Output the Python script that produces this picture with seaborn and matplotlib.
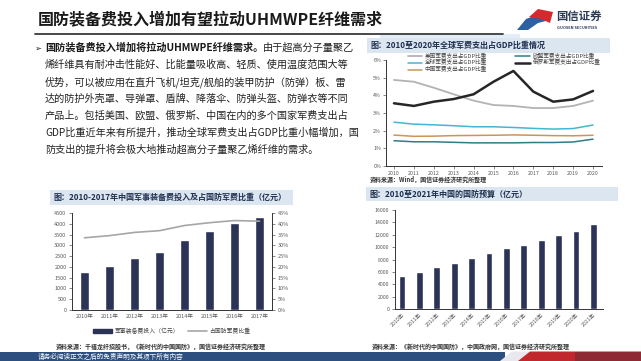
import numpy as np
import pandas as pd
import matplotlib
matplotlib.use("Agg")
import matplotlib.pyplot as plt
import seaborn as sns
from matplotlib.patches import Rectangle, Polygon, Patch
from matplotlib.lines import Line2D

# ---------------- data ----------------
gdp_years = [2010, 2011, 2012, 2013, 2014, 2015, 2016, 2017, 2018, 2019, 2020]
us_share = [4.87, 4.77, 4.43, 4.06, 3.70, 3.45, 3.40, 3.28, 3.28, 3.40, 3.70]
eu_share = [1.43, 1.37, 1.37, 1.34, 1.31, 1.31, 1.31, 1.33, 1.33, 1.36, 1.52]
world_share = [2.48, 2.37, 2.33, 2.28, 2.22, 2.22, 2.18, 2.13, 2.09, 2.12, 2.32]
china_share = [1.75, 1.68, 1.69, 1.72, 1.73, 1.74, 1.76, 1.74, 1.72, 1.71, 1.74]
russia_share = [3.55, 3.40, 3.64, 3.79, 4.06, 4.77, 5.38, 4.21, 3.64, 3.77, 4.25]
gdp_series = ["美国军费支出占GDP比重", "欧盟军费支出占GDP比重", "全球军费支出占GDP比重",
              "俄罗斯军费支出占GDP比重", "中国军费支出占GDP比重"]

equip_years = ["2010年", "2011年", "2012年", "2013年", "2014年", "2015年", "2016年", "2017年"]
equip_spend = [1760, 2060, 2400, 2710, 3260, 3680, 4050, 4320]
equip_ratio = [33.5, 34.5, 36.0, 36.8, 39.2, 40.5, 41.5, 41.2]

budget_years = ["2010年", "2011年", "2012年", "2013年", "2014年", "2015年", "2016年",
                "2017年", "2018年", "2019年", "2020年", "2021年"]
budget = [5340, 6030, 6740, 7440, 8250, 9060, 9810, 10400, 11100, 11910, 12670, 13750]

title = "国防装备费投入增加有望拉动UHMWPE纤维需求"
para_bold = "国防装备费投入增加将拉动UHMWPE纤维需求。"
para_lines = [
    "由于超高分子量聚乙",
    "烯纤维具有耐冲击性能好、比能量吸收高、轻质、使用温度范围大等",
    "优势，可以被应用在直升飞机/坦克/舰船的装甲防护（防弹）板、雷",
    "达的防护外壳罩、导弹罩、盾牌、降落伞、防弹头盔、防弹衣等不同",
    "产品上。包括美国、欧盟、俄罗斯、中国在内的多个国家军费支出占",
    "GDP比重近年来有所提升，推动全球军费支出占GDP比重小幅增加，国",
    "防支出的提升将会极大地推动超高分子量聚乙烯纤维的需求。",
]

# ---------------- style ----------------
sns.set_theme(style="white")
plt.rcParams['font.family'] = ['Noto Sans CJK SC', 'DejaVu Sans']
plt.rcParams['axes.unicode_minus'] = False

W, H = 641, 361
fig = plt.figure(figsize=(W / 100, H / 100), dpi=100)
fig.patch.set_facecolor("white")


def fx(x):
    return x / W


def fy(y):
    return 1 - y / H


def ax_px(x0, y0, x1, y1):
    return fig.add_axes([x0 / W, 1 - y1 / H, (x1 - x0) / W, (y1 - y0) / H])


NAVY = "#2b3356"
TICK = "#595959"
HDR_BG = "#dce6f1"
HDR_TXT = "#1f2f4f"

# ---------------- header / title ----------------
fig.text(fx(38), fy(19), title, fontsize=11.5, fontweight="bold", color="#1a1a1a", va="center")
fig.add_artist(Line2D([fx(35), fx(503)], [fy(34), fy(34)], color="#3a3a3a", lw=1.3))
fig.add_artist(Rectangle((fx(380), fy(38)), fx(140), 3.5 / H, color="#e3edf7", lw=0))

# logo
fig.add_artist(Polygon([(fx(517), fy(30)), (fx(526), fy(19)), (fx(537), fy(15)),
                        (fx(546), fy(21)), (fx(538), fy(23)), (fx(528), fy(30))],
                       closed=True, color="#2d5fa3", lw=0))
fig.add_artist(Polygon([(fx(529), fy(17)), (fx(538), fy(9)), (fx(553), fy(12)),
                        (fx(550), fy(23)), (fx(541), fy(19))],
                       closed=True, color="#d42a2f", lw=0))
fig.text(fx(556), fy(16), "国信证券", fontsize=8.2, fontweight="bold", color="#2b3a55", va="center")
fig.text(fx(557), fy(28), "GUOSEN SECURITIES", fontsize=2.8, fontweight="bold", color="#2b3a55", va="center")

# ---------------- paragraph ----------------
PFS = 7.3
line_y = [48, 65, 82, 99, 116, 133, 150]
fig.text(fx(34), fy(line_y[0]), "➢", fontsize=6, color="#222222", va="center",
         family=["DejaVu Sans"])
tb = fig.text(fx(45), fy(line_y[0]), para_bold, fontsize=PFS, fontweight="bold", color="#1a1a1a", va="center")
renderer = fig.canvas.get_renderer()
bb = tb.get_window_extent(renderer)
fig.text(bb.x1 / W, fy(line_y[0]), para_lines[0], fontsize=PFS, color="#222222", va="center")
for yy, txt in zip(line_y[1:], para_lines[1:]):
    fig.text(fx(45), fy(yy), txt, fontsize=PFS, color="#222222", va="center")


def header(x0, y0, x1, y1, text):
    fig.add_artist(Rectangle((fx(x0), fy(y1)), (x1 - x0) / W, (y1 - y0) / H, color=HDR_BG, lw=0))
    fig.text(fx(x0 + 3), fy((y0 + y1) / 2), text, fontsize=5.8, fontweight="bold",
             color=HDR_TXT, va="center")


def style_axes(ax, left=True, right=False):
    for s in ["top", "right", "left", "bottom"]:
        ax.spines[s].set_visible(False)
    ax.spines["bottom"].set_visible(True)
    ax.spines["bottom"].set_color("#333333")
    ax.spines["bottom"].set_linewidth(0.7)
    if left:
        ax.spines["left"].set_visible(True)
        ax.spines["left"].set_color("#333333")
        ax.spines["left"].set_linewidth(0.7)
    ax.set_facecolor("none")
    ax.grid(False)
    ax.set_xlabel("")
    ax.set_ylabel("")


# ---------------- chart 1: GDP share lines ----------------
header(367, 38, 610, 53, "图：2010至2020年全球军费支出占GDP比重情况")
ax1 = ax_px(386, 60, 602, 166)
colors1 = {"美国军费支出占GDP比重": "#b3b3b3", "欧盟军费支出占GDP比重": "#2f7d89",
           "全球军费支出占GDP比重": "#45b6d0", "俄罗斯军费支出占GDP比重": "#262626",
           "中国军费支出占GDP比重": "#c89658"}
widths1 = {"美国军费支出占GDP比重": 1.3, "欧盟军费支出占GDP比重": 1.1,
           "全球军费支出占GDP比重": 1.1, "俄罗斯军费支出占GDP比重": 1.8,
           "中国军费支出占GDP比重": 1.1}
vals1 = {"美国军费支出占GDP比重": us_share, "欧盟军费支出占GDP比重": eu_share,
         "全球军费支出占GDP比重": world_share, "俄罗斯军费支出占GDP比重": russia_share,
         "中国军费支出占GDP比重": china_share}
df1 = pd.DataFrame([(y, v, s) for s in gdp_series for y, v in zip(gdp_years, vals1[s])],
                   columns=["year", "value", "series"])
for s in gdp_series:
    sns.lineplot(data=df1[df1.series == s], x="year", y="value", color=colors1[s],
                 lw=widths1[s], ax=ax1, legend=False)
ax1.set_ylim(0, 6)
ax1.set_xlim(2009.6, 2020.45)
ax1.set_yticks(range(0, 7))
ax1.set_yticklabels([f"{i}%" for i in range(0, 7)])
ax1.set_xticks(gdp_years)
ax1.set_xticklabels([str(y) for y in gdp_years])
style_axes(ax1)
ax1.tick_params(axis="both", labelsize=3.8, colors=TICK, length=2, width=0.5, pad=1.5,
                direction="out", left=True, bottom=True)
order = ["美国军费支出占GDP比重", "全球军费支出占GDP比重", "中国军费支出占GDP比重",
         "欧盟军费支出占GDP比重", "俄罗斯军费支出占GDP比重"]
handles = [Line2D([], [], color=colors1[s], lw=widths1[s]) for s in order]
leg = ax1.legend(handles, order, loc="upper left", bbox_to_anchor=(0.10, 1.07), ncol=2,
                 frameon=False, fontsize=4.1, handlelength=2.6, columnspacing=5.0,
                 labelspacing=0.15, borderpad=0, borderaxespad=0, handletextpad=0.4)
for t in leg.get_texts():
    t.set_color("#444444")
fig.text(fx(370), fy(179), "资料来源：Wind，国信证券经济研究所整理", fontsize=4.3,
         color="#333333", va="center", fontweight="bold")

# ---------------- chart 2: equipment spend ----------------
header(50, 190, 293, 205, "图：2010-2017年中国军事装备费投入及占国防军费比重（亿元）")
ax2 = ax_px(72, 213, 272, 310)
sns.barplot(x=equip_years, y=equip_spend, color=NAVY, saturation=1, width=0.33, ax=ax2)
ax2b = ax2.twinx()
sns.lineplot(x=np.arange(len(equip_years)), y=equip_ratio, color="#a6a6a6", lw=1.2, ax=ax2b)
ax2.set_xlim(-0.5, len(equip_years) - 0.5)
ax2b.set_xlim(-0.5, len(equip_years) - 0.5)
ax2.set_ylim(0, 4500)
ax2.set_yticks(range(0, 4501, 500))
ax2b.set_ylim(0, 45)
ax2b.set_yticks(range(0, 46, 5))
ax2b.set_yticklabels([f"{v}%" for v in range(0, 46, 5)])
style_axes(ax2)
style_axes(ax2b, left=False)
ax2b.spines["right"].set_visible(True)
ax2b.spines["right"].set_color("#333333")
ax2b.spines["right"].set_linewidth(0.7)
ax2b.spines["bottom"].set_visible(False)
ax2.set_xticks(np.arange(-0.5, len(equip_years), 1.0), minor=True)
ax2.tick_params(axis="x", which="major", length=0, labelsize=4, colors=TICK, pad=3)
ax2.tick_params(axis="x", which="minor", length=2, width=0.5, color="#333333", direction="out")
ax2.tick_params(axis="y", labelsize=4, colors=TICK, length=2, width=0.5, pad=2, left=True, direction="out")
ax2b.tick_params(axis="y", labelsize=4, colors=TICK, length=2, width=0.5, pad=2, right=True, direction="out")
ax2.legend([Patch(color=NAVY), Line2D([], [], color="#a6a6a6", lw=1.2)],
           ["军事装备费投入（亿元）", "占国防军费比重"], loc="center",
           bbox_to_anchor=(fx(172), fy(331)), bbox_transform=fig.transFigure, ncol=2,
           frameon=False, fontsize=4.2, handlelength=3.2, handleheight=0.9,
           columnspacing=1.6, handletextpad=0.4, labelcolor="#444444")
fig.text(fx(56), fy(347), "资料来源：千禧龙纤招股书，《新时代的中国国防》，国信证券经济研究所整理",
         fontsize=4.3, color="#333333", va="center", fontweight="bold")

# ---------------- chart 3: defence budget ----------------
header(366, 187, 618, 201, "图：2010至2021年中国的国防预算（亿元）")
ax3 = ax_px(395, 210, 603, 309)
sns.barplot(x=budget_years, y=budget, color=NAVY, saturation=1, width=0.39, ax=ax3)
ax3.set_xlim(-0.4, 11.55)
ax3.set_ylim(0, 16000)
ax3.set_yticks(range(0, 16001, 2000))
style_axes(ax3)
ax3.set_xticks(np.arange(0.5, len(budget_years), 1.0), minor=True)
ax3.tick_params(axis="x", which="major", length=0, labelsize=3.8, colors=TICK, pad=2)
ax3.tick_params(axis="x", which="minor", length=2, width=0.5, color="#333333", direction="out")
ax3.tick_params(axis="y", labelsize=3.8, colors=TICK, length=2, width=0.5, pad=2, left=True, direction="out")
for lab in ax3.get_xticklabels():
    lab.set_rotation(45)
    lab.set_ha("right")
    lab.set_rotation_mode("anchor")
fig.text(fx(372), fy(346), "资料来源：《新时代的中国国防》，中国政府网，国信证券经济研究所整理",
         fontsize=4.3, color="#333333", va="center", fontweight="bold")

# ---------------- footer ----------------
fig.add_artist(Rectangle((0, 0), fx(505), 9.5 / H, color="#2d4f80", lw=0))
fig.add_artist(Polygon([(fx(500), 0), (fx(512), 9.5 / H), (fx(530), 9.5 / H), (fx(518), 0)],
                       closed=True, color="#e8e8ee", lw=0))
fig.add_artist(Polygon([(fx(518), 0), (fx(530), 9.5 / H), (fx(641), 9.5 / H), (fx(641), 0)],
                       closed=True, color="#c0282d", lw=0))
fig.add_artist(Rectangle((fx(575), 0), fx(66), 9.5 / H, color="#8e2a33", lw=0))
fig.text(fx(38), fy(356.5), "请务必阅读正文之后的免责声明及其项下所有内容", fontsize=4.8,
         color="white", va="center")

fig.savefig("out.png", dpi=100)
